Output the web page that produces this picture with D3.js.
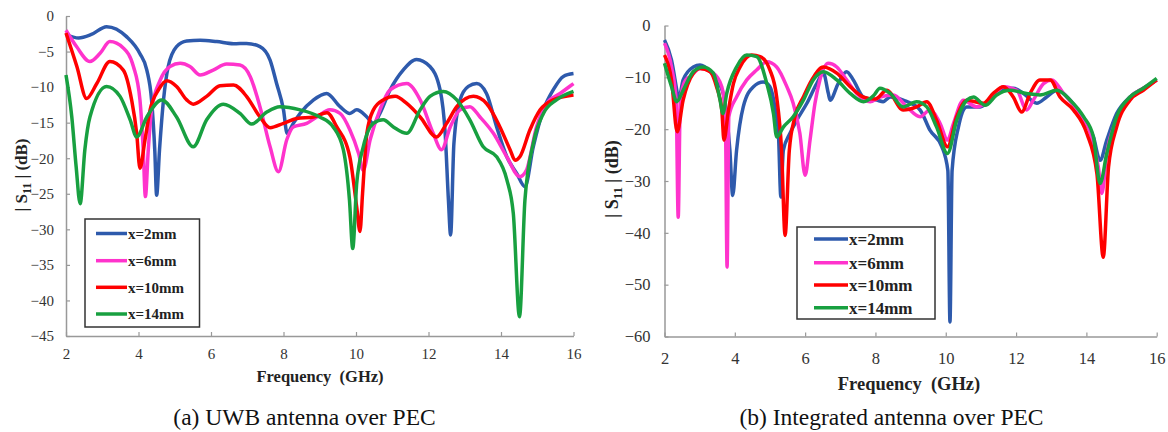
<!DOCTYPE html>
<html>
<head>
<meta charset="utf-8">
<script src="https://cdn.jsdelivr.net/npm/d3@7/dist/d3.min.js"></script>
<style>
  body { margin: 0; background: #fff; }
  svg { display: block; }
</style>
</head>
<body>
<svg id="chart" width="1168" height="432"></svg>
<script>
// series labels and colours
const seriesNames = ['x=2mm', 'x=6mm', 'x=10mm', 'x=14mm']
const seriesColors = ['#2e5aac', '#ff33cc', '#ff0000', '#18a040']

// (a) UWB antenna over PEC: [GHz, dB]
const uwb2mm = [[2.0,-2.6],[2.35,-3.1],[2.7,-2.6],[3.12,-1.5],[3.67,-2.9],[4.04,-5.3],[4.23,-7.6],[4.36,-11.8],[4.45,-19],[4.5,-25.2],[4.58,-18.8],[4.69,-11.8],[4.82,-7.1],[5.05,-4.3],[5.33,-3.5],[5.7,-3.4],[6.16,-3.6],[6.62,-3.9],[6.98,-3.85],[7.35,-4.3],[7.63,-6.2],[7.81,-9.5],[8.0,-13.2],[8.1,-16.5],[8.27,-15.1],[8.46,-13.7],[8.83,-11.8],[9.19,-10.9],[9.56,-12.75],[9.83,-13.7],[10.02,-13.2],[10.3,-14.2],[10.48,-15.1],[10.66,-13.7],[10.94,-10.4],[11.3,-7.6],[11.67,-6.1],[12.04,-7.1],[12.32,-10.4],[12.46,-16.5],[12.55,-25.9],[12.61,-30.8],[12.7,-18],[12.87,-11.8],[13.1,-9.9],[13.33,-9.5],[13.6,-10.9],[13.88,-15.6],[14.16,-19.8],[14.43,-22.1],[14.66,-24],[14.89,-18.4],[15.17,-13.2],[15.44,-10.4],[15.72,-8.5],[16,-8.1]]
const uwb6mm = [[2.0,-2.0],[2.29,-4.3],[2.66,-6.4],[2.94,-5.25],[3.21,-3.6],[3.58,-4.5],[3.86,-7.1],[4.04,-11.8],[4.13,-18.8],[4.19,-25.4],[4.27,-18.8],[4.36,-13.2],[4.6,-9],[4.87,-7.1],[5.15,-6.65],[5.42,-7.1],[5.7,-8.3],[6.06,-7.6],[6.43,-6.75],[6.8,-6.9],[7.08,-8.5],[7.35,-12.75],[7.63,-18.4],[7.86,-21.9],[8.09,-17.4],[8.27,-15.6],[8.64,-15.1],[8.92,-14.2],[9.28,-13.2],[9.56,-13.7],[9.83,-16],[10.07,-19.3],[10.2,-21.7],[10.39,-17.4],[10.66,-13.2],[10.94,-10.4],[11.4,-9.5],[11.77,-11.8],[12.13,-16.5],[12.36,-18.8],[12.6,-15.6],[12.87,-13.2],[13.14,-12.75],[13.42,-14.2],[13.79,-16.5],[14.16,-19.8],[14.52,-22.6],[14.7,-21.7],[14.98,-15.6],[15.26,-12.3],[15.63,-10.9],[16,-9.5]]
const uwb10mm = [[2.0,-2.4],[2.3,-7.1],[2.57,-11.6],[2.85,-9.5],[3.21,-6.4],[3.58,-7.6],[3.81,-11.8],[3.95,-16.5],[4.04,-21.4],[4.18,-17.4],[4.32,-13.2],[4.55,-10.4],[4.78,-9.1],[5.05,-9.9],[5.33,-11.8],[5.51,-12.4],[5.88,-11.3],[6.25,-9.8],[6.62,-9.7],[6.98,-11.3],[7.35,-14.2],[7.63,-15.7],[8.0,-15.1],[8.36,-14.4],[8.83,-14.2],[9.2,-13.6],[9.47,-15.6],[9.83,-19.8],[10.02,-26.9],[10.11,-30.3],[10.18,-25],[10.3,-16.5],[10.48,-13.2],[10.75,-11.8],[11.08,-11.3],[11.4,-12.3],[11.77,-14.2],[12.22,-17],[12.5,-15.1],[12.78,-12.75],[13.24,-11.3],[13.6,-12.3],[13.97,-15.6],[14.25,-18.8],[14.39,-20.3],[14.52,-19.8],[14.8,-16],[15.08,-13.2],[15.44,-11.8],[16,-11.1]]
const uwb14mm = [[2.0,-8.3],[2.16,-14.2],[2.28,-21.2],[2.39,-26.4],[2.52,-18.8],[2.66,-14.2],[3.12,-9.9],[3.49,-11.3],[3.77,-14.6],[3.95,-17],[4.23,-14.2],[4.64,-11.8],[5.05,-14.2],[5.51,-18.4],[5.88,-14.6],[6.34,-12.4],[6.8,-13.7],[7.12,-15.2],[7.54,-13.5],[7.9,-12.75],[8.46,-13.2],[9.0,-14.2],[9.37,-15.6],[9.65,-18.8],[9.82,-25.9],[9.91,-32.7],[10.02,-23.5],[10.2,-18.4],[10.48,-15.1],[10.75,-14.6],[11.03,-15.6],[11.4,-16.5],[11.77,-13.2],[12.04,-11.3],[12.41,-10.6],[12.78,-11.8],[13.14,-14.6],[13.51,-18.4],[13.88,-19.8],[14.16,-23],[14.34,-27.8],[14.51,-42.3],[14.66,-25.9],[14.89,-17.9],[15.17,-13.7],[15.53,-11.8],[16,-10.6]]

// (b) Integrated antenna over PEC: [GHz, dB]
const pec2mm = [[2.0,-2.8],[2.2,-6.7],[2.35,-12.5],[2.4,-14.4],[2.53,-10.5],[2.82,-8],[3.01,-7.6],[3.3,-8.9],[3.48,-10.5],[3.67,-13.1],[3.77,-17.6],[3.86,-24.1],[3.94,-32.8],[4.05,-24.1],[4.24,-15.7],[4.53,-11.8],[4.81,-10.9],[5.0,-11.8],[5.14,-15.7],[5.24,-20.8],[5.31,-33.1],[5.38,-24.1],[5.57,-20.8],[5.76,-18.3],[6.05,-15],[6.33,-11.2],[6.52,-9.2],[6.66,-13.1],[6.71,-14.4],[6.94,-11.2],[7.18,-8.9],[7.37,-10.5],[7.66,-13.8],[8.04,-14.4],[8.22,-14.7],[8.42,-13.8],[8.79,-14.4],[9.27,-16.3],[9.55,-20.2],[9.89,-23.4],[10.06,-28],[10.12,-57.2],[10.18,-28],[10.36,-19.6],[10.6,-15.7],[10.98,-15.7],[11.26,-14.4],[11.54,-12.5],[11.92,-12.1],[12.21,-13.1],[12.59,-15],[12.87,-13.8],[13.16,-12.5],[13.54,-14.4],[13.92,-18.3],[14.2,-21.5],[14.39,-26],[14.58,-22.1],[14.86,-17],[15.24,-13.8],[15.62,-12.1],[16,-10.5]]
const pec6mm = [[2.0,-3.4],[2.2,-8],[2.33,-14.4],[2.39,-37],[2.45,-14.4],[2.6,-10.5],[2.73,-9.9],[3.01,-8.3],[3.39,-9.2],[3.63,-11.8],[3.73,-17],[3.78,-46.6],[3.83,-17.6],[4.05,-13.8],[4.34,-10.5],[4.62,-8.6],[4.91,-7],[5.19,-8],[5.48,-11.8],[5.66,-15],[5.85,-20.8],[6.0,-28.9],[6.14,-22.1],[6.28,-15],[6.42,-10.5],[6.66,-7.3],[6.9,-8],[7.18,-10.5],[7.47,-13.1],[7.85,-14.7],[8.13,-13.8],[8.51,-13.4],[8.89,-15.7],[9.27,-17.6],[9.55,-16.3],[9.84,-18.9],[10.05,-22.1],[10.22,-18.9],[10.5,-14.4],[10.88,-15.7],[11.26,-14.4],[11.64,-11.8],[12.02,-12.5],[12.3,-16.3],[12.49,-14.4],[12.78,-11.2],[13.02,-10.5],[13.35,-13.1],[13.73,-16.3],[14.11,-20.8],[14.34,-27.3],[14.44,-32.4],[14.58,-24.7],[14.86,-18.3],[15.24,-13.8],[15.62,-12.1],[16,-10.5]]
const pec10mm = [[2.0,-5.7],[2.2,-10.5],[2.36,-20.5],[2.53,-14.4],[2.82,-9.2],[3.01,-8.3],[3.3,-8.9],[3.48,-11.8],[3.63,-16.3],[3.69,-22.1],[3.82,-16.3],[3.96,-11.2],[4.15,-8],[4.48,-5.7],[4.72,-6],[5.0,-8.6],[5.19,-13.8],[5.33,-24.1],[5.43,-40.5],[5.55,-24.1],[5.71,-17.6],[5.95,-13.8],[6.19,-10.5],[6.52,-8],[6.9,-9.2],[7.28,-11.8],[7.66,-13.8],[8.0,-14.2],[8.32,-12.5],[8.79,-16.3],[9.17,-15.7],[9.46,-14.7],[9.74,-18.3],[10.05,-23.4],[10.31,-17.6],[10.6,-14.4],[11.07,-15],[11.35,-13.1],[11.64,-11.8],[11.92,-13.8],[12.16,-16.7],[12.4,-13.1],[12.68,-10.5],[12.97,-10.5],[13.25,-13.8],[13.63,-16.3],[14.01,-20.8],[14.3,-28.6],[14.48,-44.7],[14.63,-27.3],[14.86,-19.6],[15.24,-14.4],[15.62,-12.5],[16,-10.5]]
const pec14mm = [[2.0,-7.3],[2.2,-11.8],[2.35,-14.7],[2.53,-12.5],[2.82,-8.9],[3.1,-8],[3.39,-9.2],[3.58,-14.4],[3.66,-17],[3.77,-13.1],[4.05,-8],[4.34,-5.7],[4.62,-6],[4.91,-11.2],[5.1,-17],[5.19,-21.5],[5.38,-19.6],[5.66,-17.6],[5.95,-14.4],[6.23,-10.5],[6.52,-8.9],[6.9,-10.5],[7.28,-13.1],[7.66,-14.7],[7.95,-13.5],[8.13,-12.1],[8.42,-13.1],[8.79,-15.7],[9.17,-14.7],[9.46,-15.7],[9.74,-19.6],[10.05,-24.7],[10.31,-18.3],[10.6,-14.4],[10.79,-13.8],[11.12,-15.4],[11.45,-13.4],[11.83,-12.5],[12.3,-13.1],[12.68,-13.4],[13.16,-12.5],[13.54,-14.4],[13.92,-17.6],[14.2,-21.5],[14.39,-30.5],[14.58,-24.7],[14.86,-17.6],[15.24,-13.8],[15.62,-12.1],[16,-10.2]]

// axis ticks
const freqTicks = [2, 4, 6, 8, 10, 12, 14, 16]
const uwbDbTicks = [0, -5, -10, -15, -20, -25, -30, -35, -40, -45]
const pecDbTicks = [0, -10, -20, -30, -40, -50, -60]

const captions = ['(a) UWB antenna over PEC', '(b) Integrated antenna over PEC']

const panels = [
  {
    series: [uwb2mm, uwb6mm, uwb10mm, uwb14mm], yTicks: uwbDbTicks, yMin: -45, caption: captions[0],
    x0: 66, x1: 573.5, y0: 16, y1: 336, tickFont: 15, yPad: 12, xPad: 12.4,
    xTitle: [320, 381.5, 16.5], yTitle: [21, 175, 17],
    legend: { x: 85, y: 219, w: 114.5, h: 108, rows: [233.5, 260.7, 287.3, 314], l0: 96, l1: 127, font: 15 },
    cap: [304.5, 425]
  },
  {
    series: [pec2mm, pec6mm, pec10mm, pec14mm], yTicks: pecDbTicks, yMin: -60, caption: captions[1],
    x0: 664.5, x1: 1156.7, y0: 25.5, y1: 336.5, tickFont: 16.5, yPad: 14, xPad: 15.3,
    xTitle: [909, 390, 18.5], yTitle: [612, 179, 18],
    legend: { x: 797, y: 227, w: 138, h: 92, rows: [239, 262.7, 285, 307.7], l0: 814, l1: 848, font: 17 },
    cap: [891.5, 425]
  }
]

const svg = d3.select('#chart')
const serif = '"Liberation Serif", "Times New Roman", serif'

panels.forEach((p) => {
  const x = d3.scaleLinear().domain([2, 16]).range([p.x0, p.x1])
  const y = d3.scaleLinear().domain([p.yMin, 0]).range([p.y1, p.y0])

  const xAxis = svg.append('g')
    .attr('transform', `translate(0,${p.y1})`)
    .call(d3.axisBottom(x).tickValues(freqTicks).tickSize(-4).tickSizeOuter(0).tickPadding(p.xPad))
  const yAxis = svg.append('g')
    .attr('transform', `translate(${p.x0},0)`)
    .call(d3.axisLeft(y).tickValues(p.yTicks).tickSize(-4).tickSizeOuter(0).tickPadding(p.yPad))

  ;[xAxis, yAxis].forEach((a) => {
    a.select('.domain').attr('stroke', '#999').attr('stroke-width', 1.5)
    a.selectAll('.tick line').attr('stroke', '#999').attr('stroke-width', 1.2)
    a.selectAll('.tick text')
      .attr('fill', '#333')
      .attr('font-family', serif)
      .attr('font-size', p.tickFont)
  })

  const line = d3.line()
    .x((d) => x(d[0]))
    .y((d) => y(d[1]))
    .curve(d3.curveMonotoneX)

  svg.append('g')
    .selectAll('path')
    .data(p.series)
    .join('path')
    .attr('d', line)
    .attr('fill', 'none')
    .attr('stroke', (_, i) => seriesColors[i])
    .attr('stroke-width', 3.5)
    .attr('stroke-linejoin', 'round')

  // legend
  const lg = p.legend
  svg.append('rect')
    .attr('x', lg.x).attr('y', lg.y)
    .attr('width', lg.w).attr('height', lg.h)
    .attr('fill', '#fff')
    .attr('stroke', '#333')
    .attr('stroke-width', 1.5)

  const rows = svg.append('g')
    .selectAll('g')
    .data(seriesNames)
    .join('g')
    .attr('transform', (_, i) => `translate(0,${lg.rows[i]})`)

  rows.append('line')
    .attr('x1', lg.l0).attr('x2', lg.l1)
    .attr('stroke', (_, i) => seriesColors[i])
    .attr('stroke-width', 3.5)

  rows.append('text')
    .attr('x', lg.l1 + 1)
    .attr('dy', '0.35em')
    .attr('font-family', serif)
    .attr('font-weight', 'bold')
    .attr('font-size', lg.font)
    .attr('fill', '#222')
    .text((d) => d)

  // axis titles
  svg.append('text')
    .attr('x', p.xTitle[0]).attr('y', p.xTitle[1])
    .attr('text-anchor', 'middle')
    .attr('font-family', serif)
    .attr('font-weight', 'bold')
    .attr('font-size', p.xTitle[2])
    .attr('fill', '#222')
    .attr('xml:space', 'preserve')
    .text('Frequency  (GHz)')

  const yt = svg.append('text')
    .attr('transform', `translate(${p.yTitle[0]},${p.yTitle[1]}) rotate(-90)`)
    .attr('text-anchor', 'middle')
    .attr('dy', '0.35em')
    .attr('font-family', serif)
    .attr('font-weight', 'bold')
    .attr('font-size', p.yTitle[2])
    .attr('fill', '#222')
  yt.append('tspan').text('| S')
  yt.append('tspan').attr('font-size', p.yTitle[2] * 0.7).attr('dy', '0.3em').text('11')
  yt.append('tspan').attr('dy', '-0.2em').text(' | (dB)')

  // caption
  svg.append('text')
    .attr('x', p.cap[0]).attr('y', p.cap[1])
    .attr('text-anchor', 'middle')
    .attr('font-family', serif)
    .attr('font-size', 23.5)
    .attr('fill', '#111')
    .text(p.caption)
})
</script>
</body>
</html>
